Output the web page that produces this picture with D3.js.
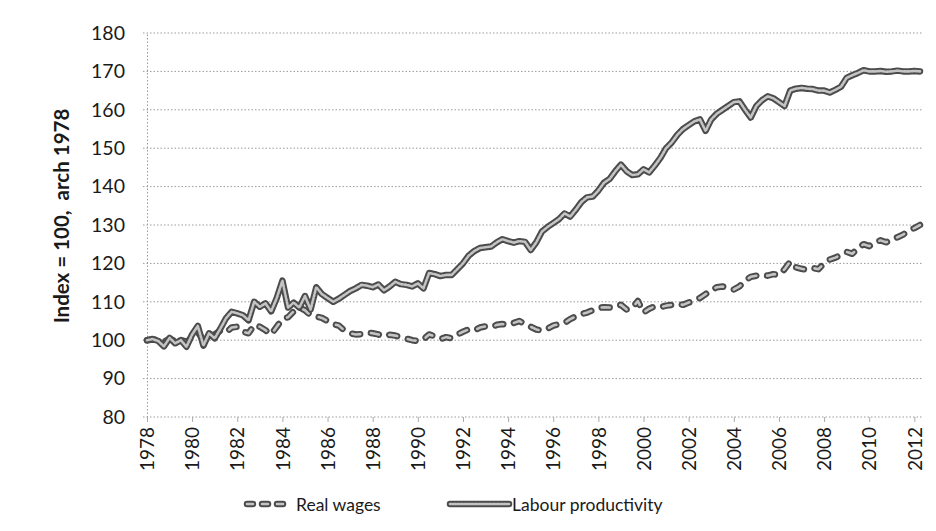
<!DOCTYPE html>
<html>
<head>
<meta charset="utf-8">
<script src="https://cdn.jsdelivr.net/npm/d3@7"></script>
<style>
	body { margin: 0; background: #fff; }
	#c-svg { width: 936px; height: 531px; }
	text { font-family: Lato, "Open Sans", sans-serif; fill: #1a1a1a; }
</style>
</head>
<body>
<div id="c-svg"></div>
<script>

//data, quarterly from 1978 Q1 to 2012 Q2
const startYear = 1978;

const productivity = [
	100, 100.3, 99.8, 98.4,      //1978
	100.6, 99.2, 100, 98.3,      //1979
	101.5, 103.7, 98.6, 101.8,   //1980
	100.5, 103, 105.7, 107.4,    //1981
	107, 106.5, 105.2, 110,      //1982
	108.7, 109.6, 107.5, 111,    //1983
	115.5, 108.5, 109.8, 108.5,  //1984
	111.5, 108, 113.8, 112,      //1985
	111, 110, 110.8, 111.8,      //1986
	112.8, 113.5, 114.4, 114.2,  //1987
	113.8, 114.5, 113, 114,      //1988
	115.2, 114.6, 114.4, 114,    //1989
	114.8, 113.5, 117.5, 117.2,  //1990
	116.7, 117, 117, 118.5,      //1991
	120, 122, 123.2, 124,        //1992
	124.2, 124.4, 125.5, 126.3,  //1993
	125.8, 125.4, 125.8, 125.6,  //1994
	123.5, 125.5, 128.3, 129.5,  //1995
	130.5, 131.5, 133, 132.2,    //1996
	134, 136, 137.2, 137.4,      //1997
	139, 141, 142, 144,          //1998
	145.7, 144, 143, 143.2,      //1999
	144.5, 143.7, 145.5, 147.5,  //2000
	150, 151.5, 153.5, 155,      //2001
	156, 157, 157.5, 154.5,      //2002
	157.5, 159, 160, 161,        //2003
	162, 162.2, 160, 158,        //2004
	161, 162.5, 163.5, 163,      //2005
	162, 161, 165, 165.5,        //2006
	165.7, 165.5, 165.4, 165,    //2007
	165, 164.5, 165.2, 166,      //2008
	168.3, 169, 169.6, 170.3,    //2009
	170, 170, 170.1, 169.9,      //2010
	170, 170.2, 170, 170,        //2011
	170.1, 170                   //2012
];

const wages = [
	100, 100.2, 100, 99.6,       //1978
	100.3, 99.8, 100.2, 99.5,    //1979
	100.8, 102, 100.2, 101.2,    //1980
	101.5, 102.5, 102, 103.3,    //1981
	103.5, 102.2, 101.8, 104,    //1982
	103.5, 102.6, 101.5, 103.5,  //1983
	105.5, 106, 107.5, 108.5,    //1984
	107.8, 106.5, 106.2, 105.8,  //1985
	105, 104.2, 103.8, 102.5,    //1986
	101.8, 101.5, 101.6, 102,    //1987
	101.8, 101.5, 101, 101.4,    //1988
	101.2, 100.8, 100.4, 100,    //1989
	99.8, 100.2, 101.5, 101,     //1990
	100.3, 100.8, 100.5, 101.5,  //1991
	102.2, 102.8, 102.5, 103.3,  //1992
	103.6, 103.4, 104, 104.2,    //1993
	104, 104.5, 105, 104.2,      //1994
	103.5, 102.8, 102.5, 103,    //1995
	103.8, 104.2, 104.5, 105.5,  //1996
	106.2, 106.8, 107.2, 107.8,  //1997
	108.4, 108.6, 108.5, 109,    //1998
	109.2, 108, 108.4, 110.2,    //1999
	107.2, 108.2, 108.8, 108.6,  //2000
	109, 109.2, 109.5, 109.2,    //2001
	109.8, 110.3, 111, 112,      //2002
	113, 113.8, 114, 113.5,      //2003
	113.2, 114, 115.5, 116.5,    //2004
	116.8, 117, 116.8, 117.2,    //2005
	117, 118.5, 120.5, 119,      //2006
	118.6, 118.3, 118.8, 118.5,  //2007
	120, 121, 121.5, 122.2,      //2008
	123, 122.5, 124, 125,        //2009
	124.5, 125.5, 126, 125.5,    //2010
	126.3, 126.8, 127.5, 128.5,  //2011
	129.2, 130                   //2012
];

const xLabels = ["1978","1980","1982","1984","1986","1988","1990","1992","1994",
	"1996","1998","2000","2002","2004","2006","2008","2010","2012"];
const yTicks = [80, 90, 100, 110, 120, 130, 140, 150, 160, 170, 180];
const seriesNames = ["Real wages", "Labour productivity"];


function graph(){

	//sizing
	let width = 936;
	let height = 531;
	let plot = {left: 147, right: 920, top: 33, bottom: 417};

	let svg = d3.select("#c-svg")
		.append("svg")
		.attr("width", width)
		.attr("height", height);

	//scales
	let x = d3.scaleLinear()
		.domain([0, productivity.length - 1])
		.range([plot.left, plot.right]);

	let y = d3.scaleLinear()
		.domain([80, 180])
		.range([plot.bottom, plot.top]);

	//gridlines
	svg.append("g")
		.selectAll("line")
		.data(yTicks)
		.join("line")
		.attr("x1", plot.left - 4)
		.attr("x2", plot.right + 2)
		.attr("y1", d => y(d))
		.attr("y2", d => y(d))
		.attr("stroke", "#9a9a9a")
		.attr("stroke-width", 1)
		.attr("stroke-dasharray", "1.5,2");

	//y axis
	let yAxis = svg.append("g")
		.attr("transform", `translate(${plot.left},0)`)
		.call(d3.axisLeft(y).tickValues(yTicks).tickSize(0).tickPadding(22));
	yAxis.select(".domain")
		.attr("stroke", "#9a9a9a")
		.attr("stroke-dasharray", "1.5,2");
	yAxis.selectAll("text")
		.style("font-size", "19.5px")
		.style("font-family", "Lato, sans-serif")
		.attr("fill", "#1a1a1a");

	//x axis
	let tickIdx = xLabels.map(d => (+d - startYear) * 4);
	let xAxis = svg.append("g")
		.attr("transform", `translate(0,${plot.bottom})`)
		.call(d3.axisBottom(x)
			.tickValues(tickIdx)
			.tickFormat((d, i) => xLabels[i])
			.tickSize(5));
	xAxis.select(".domain").remove();
	xAxis.selectAll(".tick line").attr("stroke", "#aaaaaa");
	xAxis.selectAll("text")
		.attr("transform", "rotate(-90)")
		.attr("x", -10)
		.attr("y", 0)
		.attr("dy", "0.35em")
		.style("text-anchor", "end")
		.style("font-size", "19px")
		.style("font-family", "Lato, sans-serif")
		.attr("fill", "#1a1a1a");

	//y title
	svg.append("text")
		.attr("transform", "translate(69,216) rotate(-90)")
		.attr("text-anchor", "middle")
		.style("font-size", "20.5px")
		.style("font-weight", "bold")
		.style("white-space", "pre")
		.text("Index = 100,  arch 1978");

	//lines
	let line = d3.line()
		.x((d, i) => x(i))
		.y(d => y(d));

	let g = svg.append("g");

	function drawSeries(data, dashed){
		g.append("path")
			.datum(data)
			.attr("d", line)
			.attr("fill", "none")
			.attr("stroke", "#4c4c4c")
			.attr("stroke-width", 6.5)
			.attr("stroke-linecap", "round")
			.attr("stroke-linejoin", "round")
			.attr("stroke-dasharray", dashed ? "8,11" : null);
		g.append("path")
			.datum(data)
			.attr("d", line)
			.attr("fill", "none")
			.attr("stroke", "#c4c4c4")
			.attr("stroke-width", 2.6)
			.attr("stroke-linecap", "round")
			.attr("stroke-linejoin", "round")
			.attr("stroke-dasharray", dashed ? "8,11" : "2,1.6");
	}

	drawSeries(wages, true);
	drawSeries(productivity, false);

	//legend
	let legend = svg.append("g");
	let legendItems = [
		{name: seriesNames[0], x1: 247, x2: 283, tx: 296, dashed: true},
		{name: seriesNames[1], x1: 450, x2: 509, tx: 512, dashed: false}
	];
	legendItems.forEach(function(d){
		legend.append("line")
			.attr("x1", d.x1).attr("x2", d.x2)
			.attr("y1", 504).attr("y2", 504)
			.attr("stroke", "#4c4c4c")
			.attr("stroke-width", 6.5)
			.attr("stroke-linecap", "round")
			.attr("stroke-dasharray", d.dashed ? "6,9" : null);
		legend.append("line")
			.attr("x1", d.x1).attr("x2", d.x2)
			.attr("y1", 504).attr("y2", 504)
			.attr("stroke", "#c4c4c4")
			.attr("stroke-width", 2.6)
			.attr("stroke-linecap", "round")
			.attr("stroke-dasharray", d.dashed ? "6,9" : "2,1.6");
		legend.append("text")
			.attr("x", d.tx)
			.attr("y", 511)
			.style("font-size", "17.5px")
			.text(d.name);
	});

}

graph();

</script>
</body>
</html>
